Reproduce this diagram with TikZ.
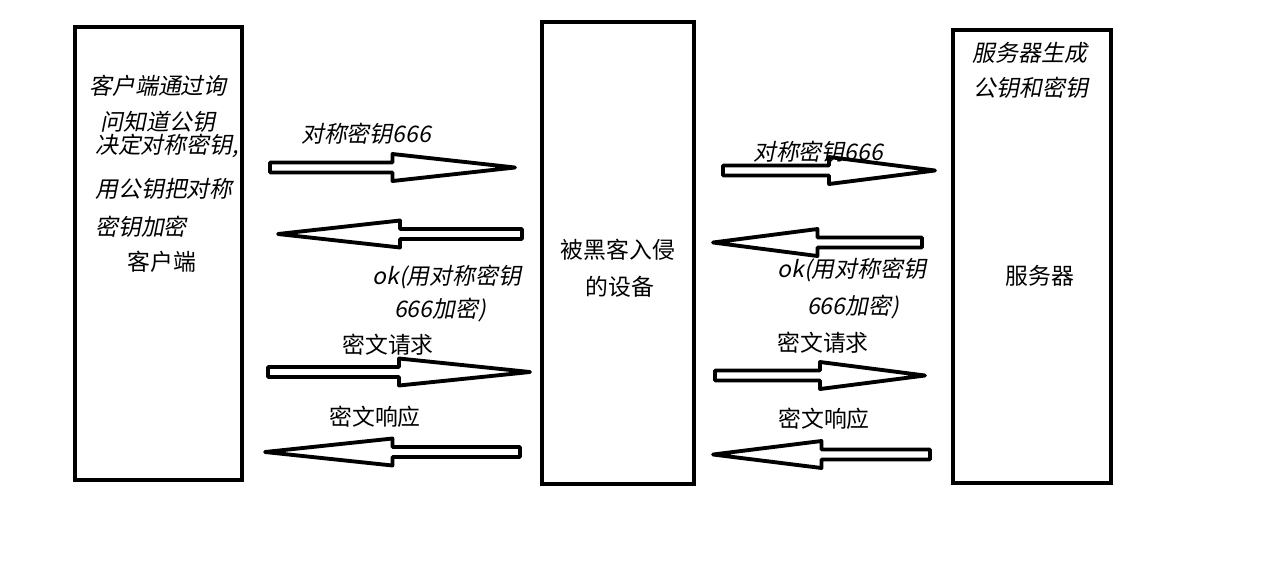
\documentclass[tikz,border=0pt]{standalone}
\usepackage{fontspec}
\setmainfont{Noto Sans CJK SC}
\newfontfamily\slantcjk[FakeSlant=0.2]{Noto Sans CJK SC}
\usepackage{tikz}
\usetikzlibrary{positioning,calc}
\tikzset{
  hostbox/.style={rectangle, draw=black, line width=2.5pt, fill=white,
    inner sep=0pt},
  notetext/.style={font=\slantcjk\fontsize{13}{15}\selectfont, inner sep=0pt},
  nametext/.style={font=\fontsize{13}{15}\selectfont, inner sep=0pt},
  blockarrow/.style={draw=black, fill=white, line width=2.2pt, line join=round,
    to path={($(\tikztostart)+(0,0.1)$)
      -- ($(\tikztostart)!0.5!(\tikztotarget)+(0,0.1)$)
      -- ($(\tikztostart)!0.5!(\tikztotarget)+(0,0.27)$)
      -- (\tikztotarget)
      -- ($(\tikztostart)!0.5!(\tikztotarget)+(0,-0.27)$)
      -- ($(\tikztostart)!0.5!(\tikztotarget)+(0,-0.1)$)
      -- ($(\tikztostart)+(0,-0.1)$) -- cycle}},
}
\begin{document}
\begin{tikzpicture}
  \useasboundingbox (0,0) rectangle (25.32,-11.48);
  \fill[white] (0,0) rectangle (25.32,-11.48);

  % Hosts
  \node[hostbox, minimum width=3.34cm, minimum height=9.06cm] (client) at (3.17,-5.07) {};
  \node[hostbox, minimum width=3.04cm, minimum height=9.24cm] (hacked) at (12.36,-5.06) {};
  \node[hostbox, minimum width=3.16cm, minimum height=9.06cm] (server) at (20.64,-5.13) {};

  % Client notes
  \node[notetext] (cnote1) at (3.16,-1.72) {客户端通过询};
  \node[notetext] (cnote2) at (3.16,-2.43) {问知道公钥};
  \node[notetext] (cnote3) at (3.34,-2.92) {决定对称密钥,};
  \node[notetext] (cnote4) at (3.28,-3.78) {用公钥把对称};
  \node[notetext] (cnote5) at (2.82,-4.54) {密钥加密};
  \node[nametext] (cname) at (3.24,-5.24) {客户端};

  % Hacked device
  \node[nametext] (hname1) at (12.36,-5.00) {被黑客入侵};
  \node[nametext] (hname2) at (12.40,-5.74) {的设备};

  % Server notes
  \node[notetext] (snote1) at (20.60,-1.06) {服务器生成};
  \node[notetext] (snote2) at (20.62,-1.76) {公钥和密钥};
  \node[nametext] (sname) at (20.80,-5.52) {服务器};

  % Arrow ends, client side
  \coordinate (ckeyA) at (5.40,-3.35);  \coordinate (ckeyB) at (10.30,-3.35);
  \coordinate (cokA) at (10.44,-4.68);  \coordinate (cokB) at (5.56,-4.68);
  \coordinate (creqA) at (5.36,-7.44);  \coordinate (creqB) at (10.60,-7.44);
  \coordinate (cresA) at (10.40,-9.04); \coordinate (cresB) at (5.30,-9.04);

  % Arrow ends, server side
  \coordinate (skeyA) at (14.46,-3.41); \coordinate (skeyB) at (18.70,-3.41);
  \coordinate (sokA) at (18.44,-4.85);  \coordinate (sokB) at (14.26,-4.85);
  \coordinate (sreqA) at (14.30,-7.51); \coordinate (sreqB) at (18.50,-7.51);
  \coordinate (sresA) at (18.60,-9.09); \coordinate (sresB) at (14.26,-9.09);

  % Arrows
  \draw[blockarrow] (ckeyA) to (ckeyB);
  \draw[blockarrow] (cokA) to (cokB);
  \draw[blockarrow] (creqA) to (creqB);
  \draw[blockarrow] (cresA) to (cresB);
  \draw[blockarrow] (skeyA) to (skeyB);
  \draw[blockarrow] (sokA) to (sokB);
  \draw[blockarrow] (sreqA) to (sreqB);
  \draw[blockarrow] (sresA) to (sresB);

  % Arrow labels
  \node[notetext] (ckeylbl) at (7.32,-2.68) {对称密钥666};
  \node[notetext] (coklbl1) at (8.94,-5.54) {ok(用对称密钥};
  \node[notetext] (coklbl2) at (8.80,-6.20) {666加密)};
  \node[nametext] (creqlbl) at (7.76,-6.90) {密文请求};
  \node[nametext] (creslbl) at (7.50,-8.34) {密文响应};
  \node[notetext] (skeylbl) at (16.36,-3.04) {对称密钥666};
  \node[notetext] (soklbl1) at (17.04,-5.40) {ok(用对称密钥};
  \node[notetext] (soklbl2) at (17.06,-6.14) {666加密)};
  \node[nametext] (sreqlbl) at (16.46,-6.86) {密文请求};
  \node[nametext] (sreslbl) at (16.48,-8.38) {密文响应};

\end{tikzpicture}
\end{document}
